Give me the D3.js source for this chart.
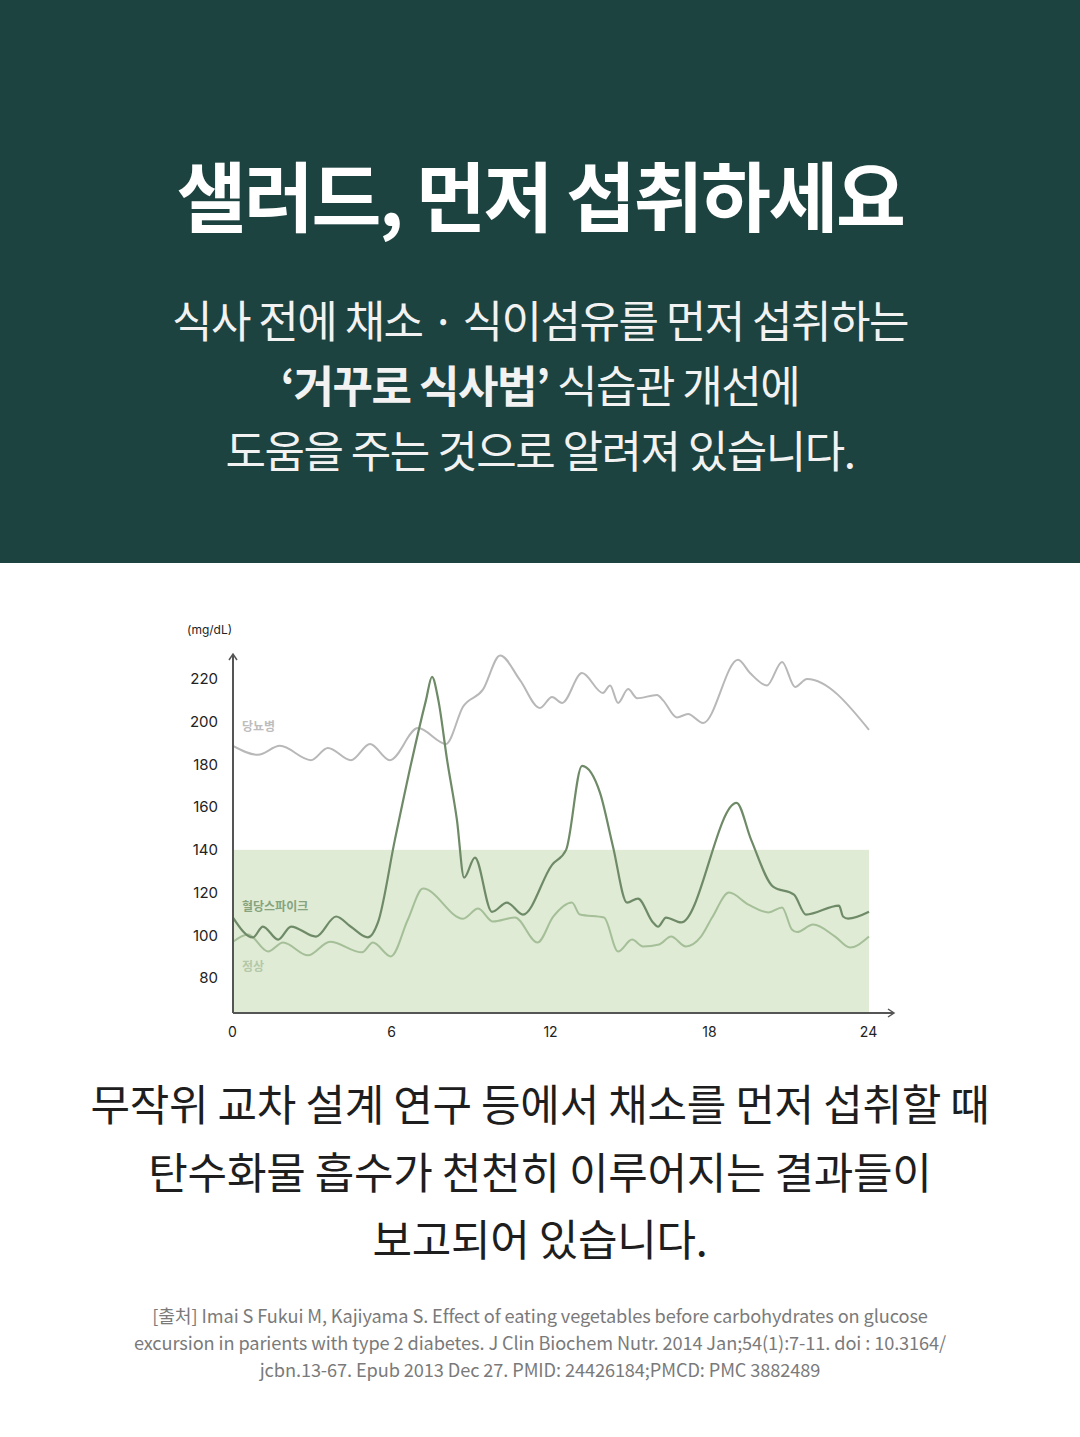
<!DOCTYPE html>
<html>
<head>
<meta charset="utf-8">
<script src="https://cdn.jsdelivr.net/npm/d3@7"></script>
<style>
  html, body { margin: 0; padding: 0; background: #fff; }
  svg { display: block; font-family: "Noto Sans CJK KR", "Noto Sans", sans-serif; }
</style>
</head>
<body>
<div id="chart"></div>
<script>
// hours after start, glucose in mg/dL
var diabetesHours = [0, 0.94, 1.77, 2.94, 3.58, 4.45, 5.17, 5.92, 6.98, 8.04, 8.68, 9.43, 10.08, 10.83, 11.58, 12.04, 12.42, 13.17, 13.96, 14.23, 14.53, 14.91, 15.25, 16.0, 16.23, 16.75, 17.17, 17.74, 19.06, 19.51, 20.15, 20.72, 21.21, 21.66, 24];
var diabetesValues = [188.7, 184.5, 188.7, 182, 187.7, 182, 189.6, 182, 197, 189.6, 207, 215, 231, 219.5, 206.4, 211.6, 208.8, 222.8, 213.5, 217, 208.8, 215.3, 211, 212.5, 210, 202, 203.6, 199.4, 229, 222.8, 217, 228, 216.3, 220, 196.2];

var spikeHours = [0, 0.75, 1.13, 1.70, 2.19, 3.13, 3.89, 4.45, 5.09, 5.47, 6.11, 6.75, 7.28, 7.51, 7.75, 8.08, 8.45, 8.72, 9.13, 9.77, 10.34, 10.94, 12.04, 12.57, 13.17, 13.85, 14.34, 14.87, 15.28, 15.85, 16.04, 16.34, 16.91, 19.0, 19.55, 20.38, 21.17, 21.62, 22.87, 23.02, 23.21, 24];
var spikeValues = [108.3, 99, 104.1, 98, 104.1, 99.4, 108.8, 104, 99, 106, 144.8, 182, 210, 221, 210, 182, 154, 127, 136.4, 111, 115.3, 109.7, 133, 140, 179.3, 166.7, 141.5, 115.3, 117.2, 106, 104, 108.3, 106, 162, 144.8, 122.8, 119, 109.7, 113.9, 108.8, 107.8, 111];

var normalHours = [0, 0.57, 1.32, 1.89, 2.83, 3.66, 4.87, 5.28, 5.96, 6.60, 7.17, 8.68, 9.25, 9.81, 10.64, 11.49, 12.09, 12.79, 13.09, 14.0, 14.53, 15.06, 15.47, 16.08, 16.53, 17.09, 17.66, 18.08, 18.72, 19.45, 20.21, 20.72, 21.09, 21.28, 21.89, 22.72, 23.28, 24];
var normalValues = [97, 100.4, 92.4, 96.6, 90.6, 97, 92, 96.6, 90.1, 107.4, 121.9, 107.8, 112.5, 106.4, 108.3, 96.6, 108.8, 115.3, 109.7, 108.3, 92.4, 98, 94.8, 95.7, 99.4, 94.8, 99.4, 108.3, 120, 114.4, 110.7, 113, 102.7, 101.5, 105, 99.4, 94.3, 99.4];

var xTicks = [0, 6, 12, 18, 24];
var yTicks = [80, 100, 120, 140, 160, 180, 200, 220];
var normalBandTop = 140;

var seriesNames = ["당뇨병", "혈당스파이크", "정상"];

var W = 1080, H = 1437;
var svg = d3.select("#chart").append("svg")
    .attr("width", W).attr("height", H)
    .attr("viewBox", "0 0 " + W + " " + H);

// header block
svg.append("rect").attr("x", 0).attr("y", 0).attr("width", W).attr("height", 563).attr("fill", "#1c4340");

svg.append("text").attr("x", 540).attr("y", 226).attr("text-anchor", "middle")
    .attr("fill", "#fff").attr("font-size", 76).attr("font-weight", 700).attr("letter-spacing", -2.4)
    .text("샐러드, 먼저 섭취하세요");

var sub = svg.append("g").attr("fill", "#f2f2f2").attr("font-size", 44).attr("text-anchor", "middle").attr("letter-spacing", -1.5);
sub.append("text").attr("x", 540).attr("y", 338).text("식사 전에 채소 · 식이섬유를 먼저 섭취하는");
var l2 = sub.append("text").attr("x", 540).attr("y", 403);
l2.append("tspan").attr("font-weight", 700).text("‘거꾸로 식사법’");
l2.append("tspan").text(" 식습관 개선에");
sub.append("text").attr("x", 540).attr("y", 468).text("도움을 주는 것으로 알려져 있습니다.");

// chart
var x = d3.scaleLinear().domain([0, 24]).range([233, 869]);
var y = d3.scaleLinear().domain([80, 220]).range([978, 679]);
var y0 = y.invert(1013);

svg.append("rect")
    .attr("x", x(0)).attr("y", y(normalBandTop))
    .attr("width", x(24) - x(0)).attr("height", y(y0) - y(normalBandTop))
    .attr("fill", "#dfebd5");

var line = d3.line().curve(d3.curveMonotoneX)
    .x(function (d) { return x(d[0]); })
    .y(function (d) { return y(d[1]); });

function pairs(hs, vs) { return hs.map(function (h, i) { return [h, vs[i]]; }); }

svg.append("path").datum(pairs(diabetesHours, diabetesValues))
    .attr("d", line).attr("fill", "none").attr("stroke", "#b8b8b8").attr("stroke-width", 2);
svg.append("path").datum(pairs(normalHours, normalValues))
    .attr("d", line).attr("fill", "none").attr("stroke", "#a5bf98").attr("stroke-width", 2);
svg.append("path").datum(pairs(spikeHours, spikeValues))
    .attr("d", line).attr("fill", "none").attr("stroke", "#6e8a67").attr("stroke-width", 2.2);

// axes
var axisColor = "#555";
svg.append("line").attr("x1", x(0)).attr("x2", x(0)).attr("y1", y(y0)).attr("y2", 655)
    .attr("stroke", axisColor).attr("stroke-width", 2);
svg.append("path").attr("d", "M" + (x(0) - 4) + ",660 L" + x(0) + ",654 L" + (x(0) + 4) + ",660")
    .attr("fill", "none").attr("stroke", axisColor).attr("stroke-width", 1.5);
svg.append("line").attr("x1", x(0)).attr("x2", 893).attr("y1", y(y0)).attr("y2", y(y0))
    .attr("stroke", axisColor).attr("stroke-width", 2);
svg.append("path").attr("d", "M888," + (y(y0) - 4) + " L894," + y(y0) + " L888," + (y(y0) + 4))
    .attr("fill", "none").attr("stroke", axisColor).attr("stroke-width", 1.5);

var yAxis = d3.axisLeft(y).tickValues(yTicks).tickSize(0).tickPadding(0);
svg.append("g").attr("transform", "translate(218,0)").call(yAxis)
    .call(function (g) { g.select(".domain").remove(); })
    .selectAll("text").attr("font-size", 15).attr("fill", "#222").attr("font-family", "Inter, 'Noto Sans', sans-serif");

var xAxis = d3.axisBottom(x).tickValues(xTicks).tickSize(0).tickPadding(0).tickFormat(d3.format("d"));
svg.append("g").attr("transform", "translate(-1,1027)").call(xAxis)
    .call(function (g) { g.select(".domain").remove(); })
    .selectAll("text").attr("font-size", 14).attr("fill", "#222").attr("font-family", "Inter, 'Noto Sans', sans-serif");

svg.append("text").attr("x", 187).attr("y", 634).attr("font-size", 12).attr("fill", "#222")
    .attr("font-family", "Inter, 'Noto Sans', sans-serif").text("(mg/dL)");

// series labels
var labelColors = ["#bdbdbd", "#86a37e", "#b3c8a8"];
var labelY = [731, 911, 971];
svg.selectAll(".slabel").data(seriesNames).enter().append("text")
    .attr("class", "slabel")
    .attr("x", 242).attr("y", function (d, i) { return labelY[i]; })
    .attr("font-size", 12).attr("font-weight", 700)
    .attr("fill", function (d, i) { return labelColors[i]; })
    .text(function (d) { return d; });

// bottom text
var body = svg.append("g").attr("fill", "#1e1e1e").attr("font-size", 43).attr("text-anchor", "middle").attr("letter-spacing", -0.3);
body.append("text").attr("x", 540).attr("y", 1121).text("무작위 교차 설계 연구 등에서 채소를 먼저 섭취할 때");
body.append("text").attr("x", 540).attr("y", 1189).text("탄수화물 흡수가 천천히 이루어지는 결과들이");
body.append("text").attr("x", 540).attr("y", 1256).text("보고되어 있습니다.");

var src = svg.append("g").attr("fill", "#7a7a7a").attr("font-size", 18.2).attr("text-anchor", "middle").attr("letter-spacing", -0.1);
src.append("text").attr("x", 540).attr("y", 1323).text("[출처] Imai S Fukui M, Kajiyama S. Effect of eating vegetables before carbohydrates on glucose");
src.append("text").attr("x", 540).attr("y", 1350).text("excursion in parients with type 2 diabetes. J Clin Biochem Nutr. 2014 Jan;54(1):7-11. doi : 10.3164/");
src.append("text").attr("x", 540).attr("y", 1377).text("jcbn.13-67. Epub 2013 Dec 27. PMID: 24426184;PMCD: PMC 3882489");
</script>
</body>
</html>
